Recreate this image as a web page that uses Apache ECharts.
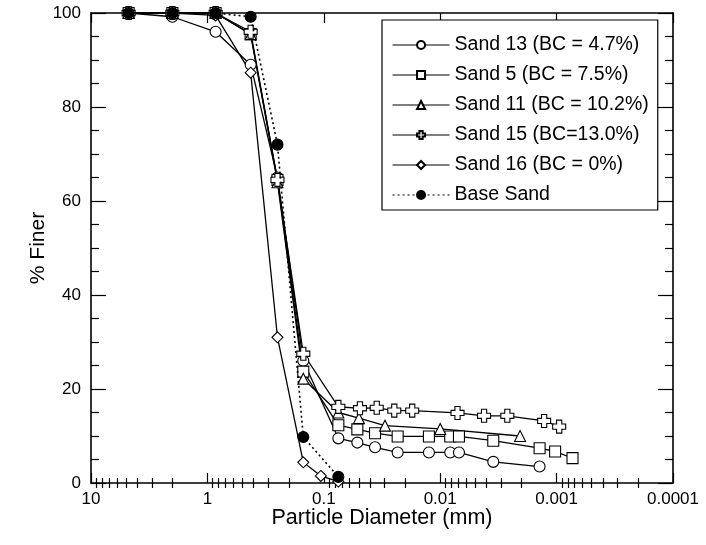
<!DOCTYPE html>
<html><head><meta charset="utf-8">
<script src="https://cdn.jsdelivr.net/npm/echarts@6/dist/echarts.min.js"></script>
<style>html,body{margin:0;padding:0;background:#fff}#c{width:706px;height:545px}</style>
</head><body><div id="c"></div>
<script>
// ---- data ----
const sieveSizes = [4.75, 2.0, 0.85, 0.425, 0.25, 0.15, 0.075];

const sand13Sieve = [100, 99.2, 96, 89, 65, 26, 9.5];
const sand13HydroD = [0.0515, 0.0363, 0.0232, 0.0125, 0.0082, 0.0069, 0.0035, 0.0014];
const sand13HydroV = [8.6, 7.6, 6.5, 6.5, 6.5, 6.5, 4.5, 3.5];

const sand5Sieve = [100, 100, 100, 95.5, 64.5, 23.7, 12.3];
const sand5HydroD = [0.0515, 0.0363, 0.0232, 0.0125, 0.0082, 0.0069, 0.0035, 0.0014, 0.00103, 0.00073];
const sand5HydroV = [11.4, 10.6, 9.9, 9.9, 9.9, 9.9, 9.0, 7.4, 6.7, 5.3];

const sand11Sieve = [100, 100, 100, 95.5, 64, 22.2, 15];
const sand11HydroD = [0.0499, 0.0298, 0.0100, 0.00206];
const sand11HydroV = [13.8, 12.2, 11.5, 10.0];

const sand15Sieve = [100, 100, 100, 96, 64.5, 27.5, 16.2];
const sand15HydroD = [0.0489, 0.0351, 0.0248, 0.0174, 0.0071, 0.0042, 0.00265, 0.00128, 0.00095];
const sand15HydroV = [15.9, 16.0, 15.4, 15.4, 14.9, 14.3, 14.3, 13.2, 12.0];

const sand16D = [4.75, 2.0, 0.85, 0.425, 0.25, 0.15, 0.106, 0.075];
const sand16V = [100, 100, 99.5, 87.3, 31, 4.4, 1.5, 0.3];

const baseSieve = [100, 100, 100, 99.2, 72, 9.8, 1.3];

const seriesNames = ['Sand 13 (BC = 4.7%)', 'Sand 5 (BC = 7.5%)', 'Sand 11 (BC = 10.2%)', 'Sand 15 (BC=13.0%)', 'Sand 16 (BC = 0%)', 'Base Sand'];

const xTickValues = [10, 1, 0.1, 0.01, 0.001, 0.0001];
const xTickLabels = ['10', '1', '0.1', '0.01', '0.001', '0.0001'];
const xMinorValues = [];
for (let k = -4; k <= 0; k++) for (let m = 2; m <= 9; m++) xMinorValues.push(+(m * Math.pow(10, k)).toPrecision(3));

// ---- helpers ----
function pairs(ds, vs) { return ds.map((d, i) => [d, vs[i]]); }
const crossPath = 'path://M3,0 H7 V3 H10 V7 H7 V10 H3 V7 H0 V3 H3 Z';
const FONT = 'Liberation Sans, Arial, sans-serif';

function mk(name, data, symbol, size, fill, dotted) {
  return {
    name, type: 'line', data, symbol, symbolSize: size, showSymbol: true,
    xAxisIndex: 0, yAxisIndex: 0,
    lineStyle: { color: '#000', width: dotted ? 1.6 : 1.3, type: dotted ? [2, 3] : 'solid' },
    itemStyle: { color: fill, borderColor: '#000', borderWidth: 1.1 },
    emphasis: { disabled: true }, animation: false, z: dotted ? 5 : 3
  };
}

const series = [
  mk(seriesNames[0], pairs(sieveSizes, sand13Sieve).concat(pairs(sand13HydroD, sand13HydroV)), 'circle', 11, '#fff'),
  mk(seriesNames[1], pairs(sieveSizes, sand5Sieve).concat(pairs(sand5HydroD, sand5HydroV)), 'rect', 11, '#fff'),
  mk(seriesNames[2], pairs(sieveSizes, sand11Sieve).concat(pairs(sand11HydroD, sand11HydroV)), 'triangle', 11, '#fff'),
  mk(seriesNames[3], pairs(sieveSizes, sand15Sieve).concat(pairs(sand15HydroD, sand15HydroV)), crossPath, 13, '#fff'),
  mk(seriesNames[4], pairs(sand16D, sand16V), 'diamond', 11, '#fff'),
  mk(seriesNames[5], pairs(sieveSizes, baseSieve), 'circle', 11, '#000', true)
];

const axisLineStyle = { color: '#000', width: 1.6 };
const tickStyle = { color: '#000', width: 1.2 };
function logAxis(extra) {
  return Object.assign({
    type: 'log', logBase: 10, min: 0.0001, max: 10, inverse: true, gridIndex: 0,
    splitLine: { show: false }, axisLine: { show: false },
    axisLabel: { show: false }, axisTick: { show: false }
  }, extra);
}

const option = {
  animation: false,
  backgroundColor: '#fff',
  textStyle: { fontFamily: FONT },
  grid: { left: 91, right: 33, top: 13, bottom: 62, containLabel: false },
  legend: {
    orient: 'vertical', left: 382, top: 20,
    data: seriesNames,
    itemWidth: 57, itemHeight: 10, itemGap: 10,
    padding: [15, 9, 5, 10],
    borderColor: '#000', borderWidth: 1.2, backgroundColor: '#fff',
    lineStyle: { width: 1.1 },
    textStyle: { fontFamily: FONT, fontSize: 19.5, color: '#000' },
    selectedMode: false
  },
  xAxis: [
    logAxis({
      position: 'bottom',
      axisLine: { show: true, onZero: false, lineStyle: axisLineStyle },
      axisTick: { show: true, inside: true, length: 10, customValues: xTickValues, lineStyle: tickStyle },
      axisLabel: {
        show: true, customValues: xTickValues, fontSize: 17, color: '#000', fontFamily: FONT, margin: 8,
        formatter: v => xTickLabels[1 - Math.round(Math.log10(v))]
      },
      name: 'Particle Diameter (mm)', nameLocation: 'middle', nameGap: 24, nameMoveOverlap: false,
      nameTextStyle: { fontSize: 21.5, color: '#000', fontFamily: FONT }
    }),
    logAxis({ position: 'bottom', axisTick: { show: true, inside: true, length: 5, customValues: xMinorValues, lineStyle: tickStyle } }),
    logAxis({
      position: 'top',
      axisLine: { show: true, onZero: false, lineStyle: axisLineStyle },
      axisTick: { show: true, inside: true, length: 10, customValues: xTickValues, lineStyle: tickStyle }
    }),
    logAxis({ position: 'top', axisTick: { show: true, inside: true, length: 5, customValues: xMinorValues, lineStyle: tickStyle } })
  ],
  yAxis: [
    {
      type: 'value', min: 0, max: 100, interval: 20, position: 'left',
      axisLine: { show: true, onZero: false, lineStyle: axisLineStyle },
      axisTick: { show: true, inside: true, length: 15, lineStyle: tickStyle },
      minorTick: { show: true, splitNumber: 4, length: 8, lineStyle: tickStyle },
      splitLine: { show: false },
      axisLabel: { fontSize: 17, color: '#000', fontFamily: FONT, margin: 10 },
      name: '% Finer', nameLocation: 'middle', nameGap: 42, nameMoveOverlap: false,
      nameTextStyle: { fontSize: 21, color: '#000', fontFamily: FONT }
    },
    {
      type: 'value', min: 0, max: 100, interval: 20, position: 'right',
      axisLine: { show: true, onZero: false, lineStyle: axisLineStyle },
      axisTick: { show: true, inside: true, length: 15, lineStyle: tickStyle },
      minorTick: { show: true, splitNumber: 4, length: 8, lineStyle: tickStyle },
      splitLine: { show: false },
      axisLabel: { show: false }
    }
  ],
  series
};

const chart = echarts.init(document.getElementById('c'), null, { renderer: 'canvas' });
chart.setOption(option);
</script>
</body></html>
